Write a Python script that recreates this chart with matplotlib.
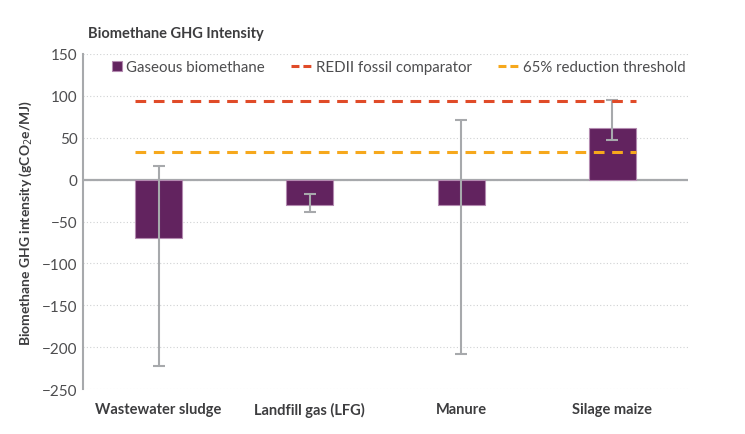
import matplotlib
matplotlib.use("Agg")
import matplotlib.pyplot as plt
import numpy as np

categories = ["Wastewater sludge", "Landfill gas (LFG)", "Manure", "Silage maize"]
values = [-70, -30, -30, 62]
err_low = [-222, -39, -208, 47]
err_high = [16, -17, 71, 95]
fossil_comparator = 94
reduction_threshold = 33
yticks = [-250, -200, -150, -100, -50, 0, 50, 100, 150]

plt.rcParams['font.family'] = ['Lato', 'DejaVu Sans']

fig = plt.figure(figsize=(7.45, 4.35), dpi=100)
ax = fig.add_axes([0.1114, 0.1034, 0.8121, 0.7702])

x = np.arange(len(categories))
vals = np.array(values)
yerr = np.array([vals - np.array(err_low), np.array(err_high) - vals])
w = 0.31
bars = ax.bar(x, vals, width=w, color="#62235f", edgecolor="#b38ab0", linewidth=0.8,
              label="Gaseous biomethane", zorder=3)
ax.errorbar(x, vals, yerr=yerr, fmt="none", ecolor="#a7a9ac", elinewidth=1.5,
            capsize=4, capthick=1.5, zorder=4)
xl = [x[0] - w / 2, x[-1] + w / 2]
l1, = ax.plot(xl, [fossil_comparator] * 2, color="#e04b28", lw=2.2, ls=(0, (3.5, 2.5)),
              label="REDII fossil comparator", zorder=5)
l2, = ax.plot(xl, [reduction_threshold] * 2, color="#f6a81c", lw=2.2, ls=(0, (3.5, 2.5)),
              label="65% reduction threshold", zorder=5)

ax.axhline(0, color="#a7a9ac", lw=1.6, zorder=2)
ax.set_xlim(-0.5, 3.5)
ax.set_ylim(-250, 150)
ax.set_yticks(yticks)
ax.yaxis.grid(True, color="#d0d2d3", ls=(0, (1, 2)), lw=0.8)
ax.set_axisbelow(True)
for s in ["top", "right", "bottom"]:
    ax.spines[s].set_visible(False)
ax.spines["left"].set_color("#a7a9ac")
ax.spines["left"].set_linewidth(1.5)
ax.tick_params(axis="y", length=0, labelsize=11, labelcolor="#4d4d4f", pad=4)
ax.tick_params(axis="x", length=0, pad=9)
ax.set_xticks(x)
ax.set_xticklabels(categories, fontsize=10.5, fontweight="bold", color="#3d3d3f")
ax.set_ylabel("Biomethane GHG intensity (gCO$_2$e/MJ)", fontsize=10, fontweight="bold",
              color="#3d3d3f", labelpad=6)
fig.text(0.118, 0.905, "Biomethane GHG Intensity", fontsize=10.5, fontweight="bold",
         color="#3d3d3f", ha="left", va="bottom")
fs = 10.8
hl = 1.35
leg = ax.legend(handles=[bars, l1, l2], loc="upper left", ncol=3, frameon=False, fontsize=fs,
                bbox_to_anchor=(0.0205, 1.0), borderaxespad=0, handlelength=hl,
                columnspacing=1.75, handletextpad=0.3)
for t in leg.get_texts():
    t.set_color("#4d4d4f")
p = leg.legend_handles[0]
p.set_width(7)
p.set_height(7)
p.set_x(hl * fs - 7)
for ln in leg.legend_handles[1:]:
    ln.set_linestyle((0, (2.6, 1.3)))

fig.savefig("out.png", dpi=100)
